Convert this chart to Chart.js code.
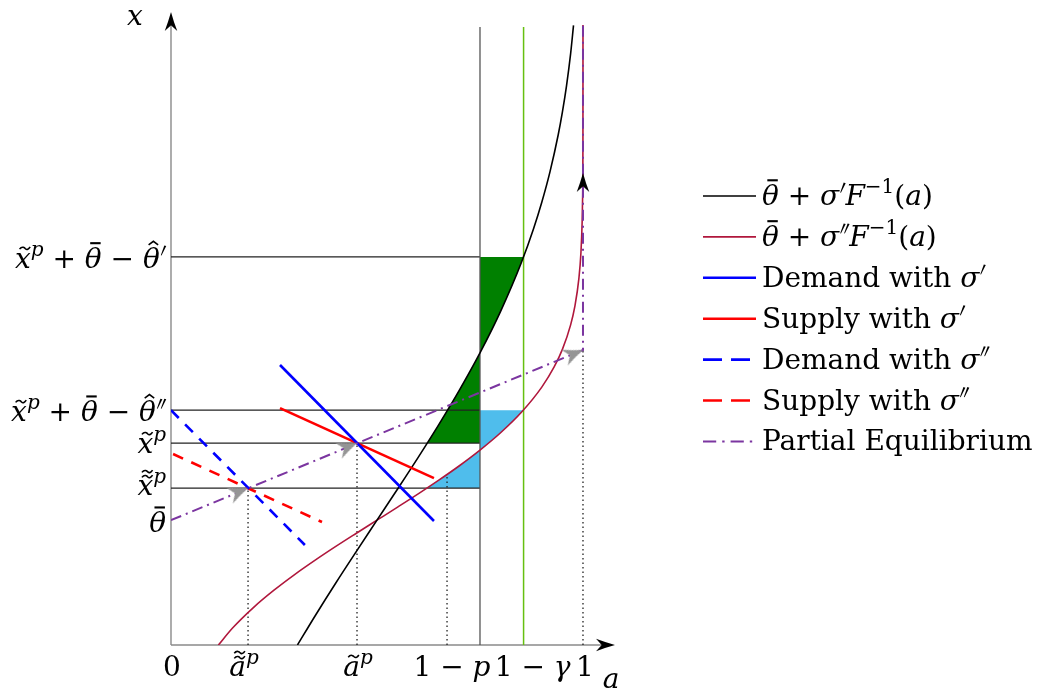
<!DOCTYPE html>
<html>
<head>
<meta charset="utf-8">
<title>Partial equilibrium</title>
<script src="https://cdn.jsdelivr.net/npm/chart.js@4.4.1/dist/chart.umd.min.js"></script>
<style>
    html, body { margin: 0; padding: 0; background: #fff; }
    #wrap { width: 1047px; height: 692px; }
</style>
</head>
<body>
<div id="wrap"><canvas id="eqChart" width="1047" height="692"></canvas></div>
<script>
// 축 끝 값 (a: 가로축, x: 세로축)
const aMax = 1.0777;
const xMax = 1.5364;

// 라벨 조각: [글자, 스타일, 악센트]
// 스타일 r=정체, i=이탤릭, p=위첨자 이탤릭, q=위첨자 정체, pr1/pr2=프라임
const aTickValues = [0, 0.187, 0.4515, 0.67, 0.8558, 1];
const aTickLabels = [
    [['0', 'r']],
    [['a', 'i', 'tilde2'], ['p', 'p']],
    [['a', 'i', 'tilde'], ['p', 'p']],
    [['1 \u2212 ', 'r'], ['p', 'i']],
    [['1 \u2212 ', 'r'], ['\u03b3', 'i']],
    [['1', 'r']]
];

// 세로축 눈금 값과 라벨
const xTickValues = [0.942, 0.570, 0.490, 0.381, 0.303];
const xTickLabels = [
    [['x', 'i', 'tilde'], ['p', 'p'], [' + ', 'r'], ['\u03b8', 'i', 'bar'], [' \u2212 ', 'r'], ['\u03b8', 'i', 'hat'], ['', 'pr1']],
    [['x', 'i', 'tilde'], ['p', 'p'], [' + ', 'r'], ['\u03b8', 'i', 'bar'], [' \u2212 ', 'r'], ['\u03b8', 'i', 'hat'], ['', 'pr2']],
    [['x', 'i', 'tilde'], ['p', 'p']],
    [['x', 'i', 'tilde2'], ['p', 'p']],
    [['\u03b8', 'i', 'bar']]
];

// 수평 보조선 높이 (세로축 ~ 1-p)
const hLineLevels = [0.942, 0.570, 0.490, 0.381];
const oneMinusP = 0.75;
const oneMinusGamma = 0.8558;
const vLineTop = 1.5;

// θ̄ + σ'F^-1(a)
const curve1A = [0.307, 0.35, 0.4, 0.45, 0.5, 0.55, 0.6, 0.65, 0.7, 0.75, 0.8, 0.85, 0.88, 0.9, 0.92, 0.94, 0.95, 0.96, 0.97, 0.977];
const curve1X = [0.0, 0.071, 0.1505, 0.2273, 0.303, 0.3787, 0.4555, 0.535, 0.6187, 0.709, 0.8097, 0.927, 1.0104, 1.0745, 1.1489, 1.239, 1.2932, 1.357, 1.4352, 1.504];

// θ̄ + σ''F^-1(a)
const curve2A = [0.115, 0.15, 0.2, 0.25, 0.3, 0.35, 0.4, 0.45, 0.5, 0.55, 0.6, 0.65, 0.7, 0.75, 0.8, 0.85, 0.9, 0.93, 0.95, 0.97, 0.98, 0.99, 0.995, 0.998, 0.999, 0.9999, 1.0];
const curve2X = [0.0, 0.0418, 0.0909, 0.133, 0.1709, 0.2059, 0.2392, 0.2713, 0.303, 0.3347, 0.3668, 0.4001, 0.4351, 0.473, 0.5151, 0.5642, 0.626, 0.6749, 0.7175, 0.777, 0.8205, 0.8892, 0.952, 1.0283, 1.0817, 1.240, 1.505];

// 수요 / 공급 직선
const demand1A = [0.2646, 0.6383];
const demand1X = [0.6796, 0.301];
const supply1A = [0.2646, 0.6383];
const supply1X = [0.575, 0.405];
const demand2A = [0.0, 0.325];
const demand2X = [0.570, 0.2427];
const supply2A = [0.005, 0.3665];
const supply2X = [0.4636, 0.2985];

// 부분 균형 경로
const peA = [0, 1, 1];
const peX = [0.303, 0.716, 1.505];

// 초록 / 하늘색 영역
const greenA = [0.75, 0.8558, 0.85, 0.825, 0.8, 0.775, 0.75, 0.725, 0.7, 0.675, 0.65, 0.622, 0.75];
const greenX = [0.942, 0.942, 0.927, 0.8656, 0.8097, 0.7578, 0.709, 0.6629, 0.6187, 0.5762, 0.535, 0.490, 0.490];
const cyanA = [0.75, 0.8553, 0.85, 0.825, 0.8, 0.775, 0.75, 0.725, 0.7, 0.675, 0.65, 0.6215, 0.75];
const cyanX = [0.570, 0.570, 0.5642, 0.5385, 0.5151, 0.4934, 0.473, 0.4536, 0.4351, 0.4174, 0.4001, 0.381, 0.381];

// 점선 (눈금까지 내리는 선)
const dotA = [0.187, 0.4515, 0.67, 1];
const dotTopX = [0.381, 0.490, 0.414, 0.716];

// 화살표 위치
const grayArrowA = [0.187, 0.4515, 1];
const grayArrowX = [0.381, 0.490, 0.716];
const blackArrowA = [1, aMax, 0];
const blackArrowX = [1.1456, 0, xMax];

// 범례 문구
const legendLabels = [
    [['\u03b8', 'i', 'bar'], [' + ', 'r'], ['\u03c3', 'i'], ['', 'pr1'], ['F', 'i'], ['\u22121', 'q'], ['(', 'r'], ['a', 'i'], [')', 'r']],
    [['\u03b8', 'i', 'bar'], [' + ', 'r'], ['\u03c3', 'i'], ['', 'pr2'], ['F', 'i'], ['\u22121', 'q'], ['(', 'r'], ['a', 'i'], [')', 'r']],
    [['Demand with ', 'r'], ['\u03c3', 'i'], ['', 'pr1']],
    [['Supply with ', 'r'], ['\u03c3', 'i'], ['', 'pr1']],
    [['Demand with ', 'r'], ['\u03c3', 'i'], ['', 'pr2']],
    [['Supply with ', 'r'], ['\u03c3', 'i'], ['', 'pr2']],
    [['Partial Equilibrium', 'r']]
];

function pts(aArr, xArr) {
    return aArr.map((a, i) => ({ x: a, y: xArr[i] }));
}

// 화살촉 모양 (pointStyle 용 캔버스)
function makeArrow(color, len, half) {
    const c = document.createElement('canvas');
    c.width = c.height = 2 * len + 4;
    const g = c.getContext('2d');
    const cx = len + 2, cy = len + 2;
    g.fillStyle = color;
    g.beginPath();
    g.moveTo(cx, cy);
    g.quadraticCurveTo(cx - len * 0.5, cy - half * 0.42, cx - len, cy - half);
    g.lineTo(cx - len * 0.7, cy);
    g.lineTo(cx - len, cy + half);
    g.quadraticCurveTo(cx - len * 0.5, cy + half * 0.42, cx, cy);
    g.closePath();
    g.fill();
    return c;
}

const FONT = '"DejaVu Serif", serif';
const FS = 28;

function fontFor(style, size) {
    const it = (style === 'i' || style === 'p') ? 'italic ' : '';
    const s = (style === 'p' || style === 'q') ? Math.round(size * 0.7) : size;
    return it + s + 'px ' + FONT;
}

function segWidth(ctx, seg, size) {
    if (seg[1] === 'pr1') return size * 0.22;
    if (seg[1] === 'pr2') return size * 0.36;
    ctx.font = fontFor(seg[1], size);
    return ctx.measureText(seg[0]).width;
}

function drawPrime(ctx, x, y, size) {
    ctx.beginPath();
    ctx.moveTo(x + size * 0.16, y - size * 0.80);
    ctx.lineTo(x + size * 0.23, y - size * 0.78);
    ctx.lineTo(x + size * 0.06, y - size * 0.44);
    ctx.lineTo(x + size * 0.035, y - size * 0.45);
    ctx.closePath();
    ctx.fill();
}

function drawTilde(ctx, cx, y, size) {
    const w = size * 0.19, h = size * 0.05;
    ctx.beginPath();
    ctx.moveTo(cx - w, y + h * 0.6);
    ctx.bezierCurveTo(cx - w * 0.5, y - h * 2, cx, y - h * 0.2, cx + w * 0.1, y + h * 0.3);
    ctx.bezierCurveTo(cx + w * 0.4, y + h * 1.4, cx + w * 0.7, y + h * 0.6, cx + w, y - h);
    ctx.stroke();
}

function drawAccent(ctx, kind, x, w, y, size) {
    const cx = x + w * 0.5 + size * 0.07;
    ctx.save();
    ctx.lineWidth = size * 0.055;
    ctx.strokeStyle = ctx.fillStyle;
    if (kind === 'bar') {
        ctx.fillRect(cx - w * 0.3, y - size * 0.92, w * 0.62, size * 0.075);
    } else if (kind === 'hat') {
        ctx.beginPath();
        ctx.moveTo(cx - size * 0.17, y - size * 0.82);
        ctx.lineTo(cx, y - size * 0.95);
        ctx.lineTo(cx + size * 0.17, y - size * 0.82);
        ctx.stroke();
    } else if (kind === 'tilde') {
        drawTilde(ctx, cx, y - size * 0.70, size);
    } else if (kind === 'tilde2') {
        drawTilde(ctx, cx, y - size * 0.66, size);
        drawTilde(ctx, cx, y - size * 0.84, size);
    }
    ctx.restore();
}

function drawRich(ctx, segs, x, y, align, size) {
    let w = 0;
    for (const seg of segs) w += segWidth(ctx, seg, size);
    let cx = align === 'right' ? x - w : align === 'center' ? x - w / 2 : x;
    ctx.textAlign = 'left';
    ctx.textBaseline = 'alphabetic';
    for (const seg of segs) {
        const [t, s, acc] = seg;
        const sw = segWidth(ctx, seg, size);
        if (s === 'pr1') {
            drawPrime(ctx, cx, y, size);
        } else if (s === 'pr2') {
            drawPrime(ctx, cx, y, size);
            drawPrime(ctx, cx + size * 0.14, y, size);
        } else {
            ctx.font = fontFor(s, size);
            const dy = (s === 'p' || s === 'q') ? -size * 0.42 : 0;
            ctx.fillText(t, cx, y + dy);
            if (acc) drawAccent(ctx, acc, cx, sw, y, size);
        }
        cx += sw;
    }
}

const datasets = [
    { data: pts(curve1A, curve1X), borderColor: '#000000', borderWidth: 1.6, cubicInterpolationMode: 'monotone', order: 5 },
    { data: pts(curve2A, curve2X), borderColor: '#b0173c', borderWidth: 1.6, cubicInterpolationMode: 'monotone', order: 5 },
    { data: pts(demand1A, demand1X), borderColor: '#0000ff', borderWidth: 2.6, order: 4 },
    { data: pts(supply1A, supply1X), borderColor: '#ff0000', borderWidth: 2.6, order: 4 },
    { data: pts(demand2A, demand2X), borderColor: '#0000ff', borderWidth: 2.6, borderDash: [11, 9], order: 4 },
    { data: pts(supply2A, supply2X), borderColor: '#ff0000', borderWidth: 2.6, borderDash: [11, 9], order: 4 },
    { data: pts(peA, peX), borderColor: '#7b35a0', borderWidth: 2, borderDash: [11, 5, 2, 5], order: 3 },
    { data: pts(greenA, greenX), borderWidth: 0, backgroundColor: '#008000', fill: 'shape', order: 10 },
    { data: pts(cyanA, cyanX), borderWidth: 0, backgroundColor: '#4fbdec', fill: 'shape', order: 10 },
    { data: pts([oneMinusP, oneMinusP], [0, vLineTop]), borderColor: '#555555', borderWidth: 1.3, order: 9 },
    { data: pts([oneMinusGamma, oneMinusGamma], [0, vLineTop]), borderColor: '#66c010', borderWidth: 1.5, order: 9 }
];

// 수평선, 점선은 배열에서 만들어 넣기
hLineLevels.forEach(lvl => {
    datasets.push({ data: pts([0, oneMinusP], [lvl, lvl]), borderColor: '#222222', borderWidth: 1.3, order: 9 });
});
dotA.forEach((a, i) => {
    datasets.push({ data: pts([a, a], [0, dotTopX[i]]), borderColor: '#222222', borderWidth: 1.3, borderDash: [1.5, 3], order: 8 });
});

datasets.push({
    data: pts(grayArrowA, grayArrowX), showLine: false, clip: false,
    pointStyle: makeArrow('#959595', 20, 8.5), pointRadius: 6, pointRotation: -22.4, order: 1
});
datasets.push({
    data: pts(blackArrowA, blackArrowX), showLine: false, clip: false,
    pointStyle: makeArrow('#000000', 19, 6.2), pointRadius: 6, pointRotation: [-90, 0, -90], order: 0
});

// 축선, 라벨, 범례 그리기
const diagramText = {
    id: 'diagramText',
    beforeDatasetsDraw(chart) {
        const ctx = chart.ctx;
        const sx = chart.scales.x, sy = chart.scales.y;
        ctx.save();
        ctx.strokeStyle = '#8a8a8a';
        ctx.lineWidth = 1.4;
        ctx.beginPath();
        ctx.moveTo(sx.getPixelForValue(0), sy.getPixelForValue(0));
        ctx.lineTo(sx.getPixelForValue(0), sy.getPixelForValue(xMax) + 4);
        ctx.moveTo(sx.getPixelForValue(0), sy.getPixelForValue(0));
        ctx.lineTo(sx.getPixelForValue(aMax) - 4, sy.getPixelForValue(0));
        ctx.stroke();
        ctx.restore();
    },
    afterDraw(chart) {
        const ctx = chart.ctx;
        const sx = chart.scales.x, sy = chart.scales.y;
        const x0 = sx.getPixelForValue(0);
        const y0 = sy.getPixelForValue(0);
        ctx.save();
        ctx.fillStyle = '#000';

        // 세로축 라벨
        const yShift = [11, 11, 10, 7, 12];
        xTickValues.forEach((v, i) => {
            drawRich(ctx, xTickLabels[i], x0 - 5, sy.getPixelForValue(v) + yShift[i], 'right', FS);
        });

        // 가로축 라벨
        const aShift = [1, -4, 1, 5, 9, 2];
        aTickValues.forEach((v, i) => {
            drawRich(ctx, aTickLabels[i], sx.getPixelForValue(v) + aShift[i], y0 + 31, 'center', FS);
        });

        // 축 이름
        drawRich(ctx, [['x', 'i']], x0 - 36, 25, 'center', FS);
        drawRich(ctx, [['a', 'i']], sx.getPixelForValue(aMax) - 4, y0 + 43, 'center', FS);

        // 범례
        const rowY = 196, rowGap = 40.9;
        legendLabels.forEach((lab, i) => {
            const ds = chart.data.datasets[i];
            const y = rowY + i * rowGap;
            let dash = [];
            if (ds.borderDash && ds.borderDash.length === 2) dash = [19, 9];
            else if (ds.borderDash) dash = ds.borderDash.map(d => d * 1.2);
            ctx.save();
            ctx.strokeStyle = ds.borderColor;
            ctx.lineWidth = ds.borderWidth;
            ctx.setLineDash(dash);
            ctx.beginPath();
            ctx.moveTo(703, y);
            ctx.lineTo(756, y);
            ctx.stroke();
            ctx.restore();
            drawRich(ctx, lab, 762, y + 9, 'left', FS);
        });
        ctx.restore();
    }
};

const chart = new Chart(document.getElementById('eqChart'), {
    type: 'line',
    data: { datasets: datasets },
    options: {
        responsive: false,
        devicePixelRatio: 1,
        animation: false,
        events: [],
        layout: { padding: { left: 171, top: 12, right: 1047 - 615, bottom: 47 } },
        elements: {
            point: { radius: 0 },
            line: { tension: 0, fill: false, borderCapStyle: 'butt' }
        },
        plugins: {
            legend: { display: false },
            tooltip: { enabled: false }
        },
        scales: {
            x: { type: 'linear', min: 0, max: aMax, display: false },
            y: { type: 'linear', min: 0, max: xMax, display: false }
        }
    },
    plugins: [diagramText]
});
</script>
</body>
</html>
